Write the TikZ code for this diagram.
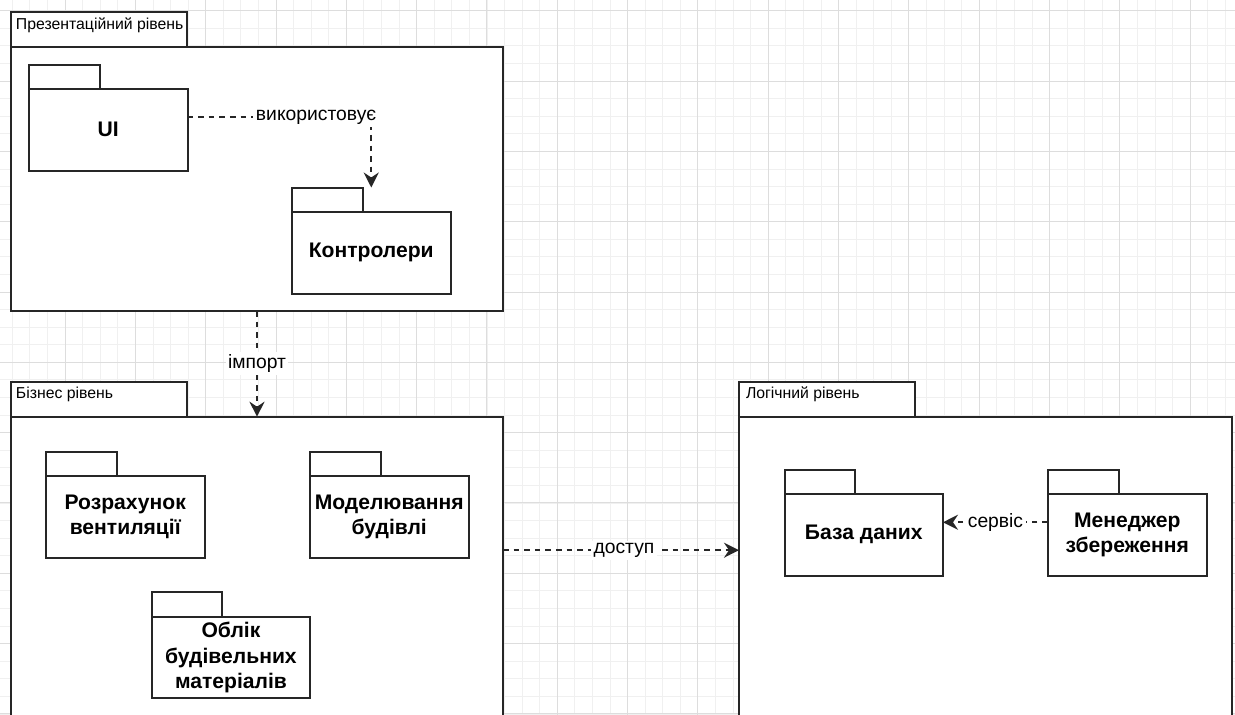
\documentclass[tikz,border=0pt]{standalone}
\usepackage{fontspec}
\setmainfont{Liberation Sans}
\usetikzlibrary{arrows.meta, positioning, calc}
\definecolor{gridminor}{HTML}{F0F0F0}
\definecolor{gridmajor}{HTML}{DDDDDD}

\begin{document}
\begin{tikzpicture}[x=1pt, y=-1pt, line width=2pt,
    >={Stealth[length=15pt, width=15pt, inset=5pt]},
    box/.style={draw=black!85, fill=white, inner sep=0pt, outer sep=0pt},
    layer/.style={box, anchor=north west, minimum width=492pt, minimum height=302pt},
    layertab/.style={box, minimum width=176pt, minimum height=35pt},
    layername/.style={anchor=base west, inner sep=0pt, font=\fontsize{15.8}{19}\selectfont},
    pkg/.style={box, anchor=north west, minimum width=158.5pt, minimum height=81.5pt,
        align=center, font=\fontsize{21.1}{25.3}\selectfont\bfseries},
    pkgtab/.style={box, minimum width=70.5pt, minimum height=24.5pt},
    dep/.style={draw=black!85, line width=1.9pt, dash pattern=on 5.6pt off 5pt, ->},
    deplabel/.style={fill=white, inner sep=2.5pt, font=\fontsize{19.3}{23}\selectfont}]
    \useasboundingbox (0,0) rectangle (1235,715);
    \clip (0,0) rectangle (1235,715);
    \fill[white] (0,0) rectangle (1235,715);
    \draw[gridminor, line width=0.8pt, step=17.58pt, shift={(12.26,10.7)}] (-30,-30) grid (1240,730);
    \draw[gridmajor, line width=0.9pt, step=70.32pt, shift={(65,10.7)}] (-80,-80) grid (1240,730);

    \node[layer, minimum height=264.3pt] (pres) at (11,46.7) {};
    \node[layertab, above right=0pt of pres.north west] (pres-tab) {};
    \node[layername] (pres-name) at ([xshift=4pt, yshift=-17.5pt]pres-tab.north west) {Презентаційний рівень};

    \node[layer] (biz) at (11,416.7) {};
    \node[layertab, above right=0pt of biz.north west] (biz-tab) {};
    \node[layername] (biz-name) at ([xshift=4pt, yshift=-17pt]biz-tab.north west) {Бізнес рівень};

    \node[layer, minimum width=493pt] (logic) at (739,416.7) {};
    \node[layertab, above right=0pt of logic.north west] (logic-tab) {};
    \node[layername] (logic-name) at ([xshift=6pt, yshift=-17pt]logic-tab.north west) {Логічний рівень};

    \node[pkg] (ui) at (29,89) {UI};
    \node[pkgtab, above right=0pt of ui.north west] (ui-tab) {};
    \node[pkg] (ctrl) at (292,212) {Контролери};
    \node[pkgtab, above right=0pt of ctrl.north west] (ctrl-tab) {};

    \node[pkg] (vent) at (46,476) {Розрахунок\\вентиляції};
    \node[pkgtab, above right=0pt of vent.north west] (vent-tab) {};
    \node[pkg] (model) at (310,476) {Моделювання\\будівлі};
    \node[pkgtab, above right=0pt of model.north west] (model-tab) {};
    \node[pkg] (mat) at (151.7,616.7) {Облік\\будівельних\\матеріалів};
    \node[pkgtab, above right=0pt of mat.north west] (mat-tab) {};

    \node[pkg] (db) at (784.5,494) {База даних};
    \node[pkgtab, above right=0pt of db.north west] (db-tab) {};
    \node[pkg] (mgr) at (1048,494) {Менеджер\\збереження};
    \node[pkgtab, above right=0pt of mgr.north west] (mgr-tab) {};

    \draw[dep] ([yshift=12.5pt]ui.east) -| node[deplabel, pos=0.35] {використовує} (ctrl.north |- ctrl-tab.north);
    \draw[dep] (pres.south) -- node[deplabel] {імпорт} (biz.north);
    \draw[dep] ([yshift=17.5pt]biz.east) -- node[deplabel, xshift=3pt] {доступ} ([yshift=17.5pt]logic.west);
    \draw[dep] ([yshift=12.5pt]mgr.west) -- node[deplabel] {сервіс} ([yshift=12.5pt]db.east);
\end{tikzpicture}
\end{document}
